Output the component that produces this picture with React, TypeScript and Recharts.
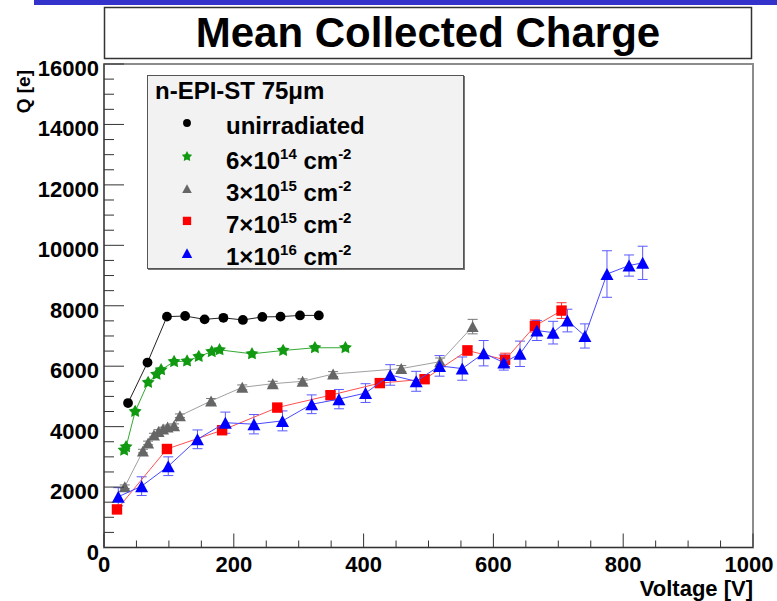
import {
  ErrorBar,
  Label,
  Legend,
  ReferenceArea,
  Scatter,
  ScatterChart,
  XAxis,
  YAxis,
} from "recharts";

// unirradiated
const unirrVoltage = [37, 67, 97, 125, 155, 184, 214, 244, 272, 302, 331];
const unirrCharge = [4780, 6120, 7640, 7660, 7550, 7600, 7530, 7630, 7640, 7680, 7680];

// 6e14 cm^-2
const f6e14Voltage = [31, 34, 48, 68, 81, 88, 108, 128, 146, 166, 178, 228, 276, 325, 372];
const f6e14Charge = [3220, 3330, 4500, 5460, 5730, 5880, 6150, 6170, 6320, 6480, 6540, 6410, 6520, 6610, 6610];

// 3e15 cm^-2
const f3e15Voltage = [32, 60, 68, 77, 84, 91, 98, 108, 117, 165, 213, 260, 306, 353, 458, 518, 568];
const f3e15Charge = [2010, 3190, 3460, 3720, 3840, 3920, 3990, 4030, 4360, 4850, 5300, 5420, 5500, 5740, 5920, 6150, 7310];
const f3e15Error = [60, 60, 60, 60, 60, 60, 60, 60, 60, 80, 80, 80, 80, 80, 100, 120, 240];

// 7e15 cm^-2
const f7e15Voltage = [20, 97, 182, 267, 349, 425, 494, 560, 618, 664, 705];
const f7e15Charge = [1260, 3260, 3880, 4630, 5040, 5440, 5570, 6520, 6210, 7330, 7840];
const f7e15Error = [100, 100, 100, 100, 120, 120, 120, 150, 220, 200, 260];

// 1e16 cm^-2
const f1e16Voltage = [22, 58, 99, 144, 187, 231, 275, 320, 362, 403, 441, 481, 517, 552, 585, 616, 641, 667, 692, 714, 741, 775, 809, 830];
const f1e16Charge = [1680, 2030, 2690, 3580, 4130, 4080, 4190, 4740, 4910, 5110, 5710, 5500, 6010, 5920, 6430, 6120, 6410, 7180, 7110, 7510, 7000, 9050, 9330, 9420];
const f1e16Error = [300, 310, 310, 310, 350, 320, 330, 310, 320, 310, 340, 330, 340, 385, 420, 250, 420, 330, 375, 375, 400, 770, 350, 550];

const xLabels = [0, 200, 400, 600, 800, 1000];
const yLabels = [0, 2000, 4000, 6000, 8000, 10000, 12000, 14000, 16000];
const xTicks = Array.from({ length: 21 }, (_, i) => i * 50);
const yTicks = Array.from({ length: 33 }, (_, i) => i * 500);

const legendTitle = "n-EPI-ST 75\u03bcm";
const fluenceMantissa = ["6", "3", "7", "1"];
const fluenceExponent = ["14", "15", "15", "16"];

const FONT = "'Liberation Sans', Arial, Helvetica, sans-serif";

interface Row {
  v: number;
  q: number;
  err: number;
}

function rows(voltage: number[], charge: number[], error?: number[]): Row[] {
  return voltage.map((v, i) => ({ v, q: charge[i], err: error ? error[i] : 0 }));
}

const unirrData = rows(unirrVoltage, unirrCharge);
const f6e14Data = rows(f6e14Voltage, f6e14Charge);
const f3e15Data = rows(f3e15Voltage, f3e15Charge, f3e15Error);
const f7e15Data = rows(f7e15Voltage, f7e15Charge, f7e15Error);
const f1e16Data = rows(f1e16Voltage, f1e16Charge, f1e16Error);

function starPoints(cx: number, cy: number, ro: number, ri: number) {
  const pts: string[] = [];
  for (let i = 0; i < 10; i++) {
    const r = i % 2 === 0 ? ro : ri;
    const a = -Math.PI / 2 + (i * Math.PI) / 5;
    pts.push(`${cx + r * Math.cos(a)},${cy + r * Math.sin(a)}`);
  }
  return pts.join(" ");
}

function Marker({ kind, cx, cy, color, s = 1 }: { kind: string; cx: number; cy: number; color: string; s?: number }) {
  if (kind === "circle") return <circle cx={cx} cy={cy} r={4.9 * s} fill={color} />;
  if (kind === "star") return <polygon points={starPoints(cx, cy, 6.8 * s, 3.6 * s)} fill={color} />;
  if (kind === "square") {
    const h = 5.2 * s;
    return <rect x={cx - h} y={cy - h} width={2 * h} height={2 * h} fill={color} />;
  }
  const w = (kind === "triBig" ? 6.5 : 6) * s;
  const hh = (kind === "triBig" ? 6 : 5.5) * s;
  return <polygon points={`${cx - w},${cy + hh} ${cx + w},${cy + hh} ${cx},${cy - hh}`} fill={color} />;
}

const shape = (kind: string, color: string) => (props: any) =>
  <Marker kind={kind} cx={props.cx} cy={props.cy} color={color} />;

function XTick(props: any) {
  const { x, y, payload } = props;
  const v = payload.value as number;
  const major = xLabels.includes(v);
  return (
    <g>
      <line x1={x} x2={x} y1={y} y2={y - (major ? 14 : 7)} stroke="#333" />
      {major && (
        <text x={v === 1000 ? x - 4 : x} y={y + 24} textAnchor="middle" fontFamily={FONT} fontWeight="bold" fontSize={22} fill="#000">
          {v}
        </text>
      )}
    </g>
  );
}

function YTick(props: any) {
  const { x, y, payload } = props;
  const v = payload.value as number;
  const major = yLabels.includes(v);
  return (
    <g>
      <line x1={x} x2={x + (major ? 20 : 10)} y1={y} y2={y} stroke="#333" />
      {major && (
        <text x={x - 5} y={y + 12} textAnchor="end" fontFamily={FONT} fontWeight="bold" fontSize={22} fill="#000">
          {v}
        </text>
      )}
    </g>
  );
}

const legendMarkers = [
  { kind: "star", color: "#119911" },
  { kind: "tri", color: "#666666" },
  { kind: "square", color: "#ff0000" },
  { kind: "triBig", color: "#0000ff" },
];

function LegendBox() {
  return (
    <div
      style={{
        width: 317,
        height: 194,
        boxSizing: "border-box",
        background: "#f2f2f2",
        border: "1px solid #555",
        boxShadow: "1px 1px 0 #777",
      }}
    >
      <svg width={317} height={194} style={{ position: "absolute", left: 0, top: 0 }}>
        <g fontFamily={FONT} fontWeight="bold" fill="#000">
          <text x={8} y={24} fontSize={24}>{legendTitle}</text>
          <Marker kind="circle" cx={40} cy={48} color="#000" s={0.8} />
          <text x={79} y={59} fontSize={24}>unirradiated</text>
          {fluenceMantissa.map((m, i) => (
            <g key={m + i}>
              <Marker kind={legendMarkers[i].kind} cx={40} cy={81.5 + i * 32.2} color={legendMarkers[i].color} s={0.8} />
              <text x={79} y={94 + i * 32} fontSize={24}>
                {m}{"\u00d7"}10
                <tspan dy={-10} fontSize={15}>{fluenceExponent[i]}</tspan>
                <tspan dy={10} fontSize={24}> cm</tspan>
                <tspan dy={-10} fontSize={15}>-2</tspan>
              </text>
            </g>
          ))}
        </g>
      </svg>
    </div>
  );
}

export default function App() {
  return (
    <div style={{ position: "absolute", left: 0, top: 0, width: 777, height: 601, background: "#fff", overflow: "hidden" }}>
      <ScatterChart width={777} height={601} margin={{ top: 64, right: 24, bottom: 0, left: 0 }}>
        <ReferenceArea x1={0} x2={1000} y1={0} y2={16000} fill="none" stroke="#8c8c8c" strokeWidth={2} ifOverflow="visible" />
        <XAxis
          type="number"
          dataKey="v"
          domain={[0, 1000]}
          ticks={xTicks}
          interval={0}
          tick={<XTick />}
          tickLine={false}
          tickSize={0}
          tickMargin={0}
          height={53.5}
          axisLine={{ stroke: "#333" }}
          allowDataOverflow
        >
          <Label
            content={(p: any) => (
              <text x={p.viewBox.x + p.viewBox.width} y={p.viewBox.y + 48.5} textAnchor="end" fontFamily={FONT} fontWeight="bold" fontSize={22} fill="#000">
                Voltage [V]
              </text>
            )}
          />
        </XAxis>
        <YAxis
          type="number"
          dataKey="q"
          domain={[0, 16000]}
          ticks={yTicks}
          interval={0}
          tick={<YTick />}
          tickLine={false}
          tickSize={0}
          tickMargin={0}
          width={104}
          axisLine={{ stroke: "#333" }}
          allowDataOverflow
        >
          <Label
            content={(p: any) => (
              <text x={30} y={p.viewBox.y + 6} textAnchor="end" transform={`rotate(-90, 30, ${p.viewBox.y + 6})`} fontFamily={FONT} fontWeight="bold" fontSize={19} fill="#000">
                Q [e]
              </text>
            )}
          />
        </YAxis>
        <Legend
          layout="vertical"
          align="center"
          verticalAlign="middle"
          content={() => <LegendBox />}
          wrapperStyle={{ left: 147, top: 75, width: 317, height: 194 }}
        />
        <Scatter name="unirradiated" data={unirrData} line={{ stroke: "#222", strokeWidth: 1 }} shape={shape("circle", "#000")} isAnimationActive={false} />
        <Scatter name="6e14" data={f6e14Data} line={{ stroke: "#33aa33", strokeWidth: 1 }} shape={shape("star", "#119911")} isAnimationActive={false} />
        <Scatter name="3e15" data={f3e15Data} line={{ stroke: "#a0a0a0", strokeWidth: 1 }} shape={shape("tri", "#666666")} isAnimationActive={false}>
          <ErrorBar dataKey="err" direction="y" width={5} stroke="#777" strokeWidth={1} isAnimationActive={false} />
        </Scatter>
        <Scatter name="7e15" data={f7e15Data} line={{ stroke: "#ff5050", strokeWidth: 1 }} shape={shape("square", "#ff0000")} isAnimationActive={false}>
          <ErrorBar dataKey="err" direction="y" width={5} stroke="#ff3030" strokeWidth={1} isAnimationActive={false} />
        </Scatter>
        <Scatter name="1e16" data={f1e16Data} line={{ stroke: "#4848ff", strokeWidth: 1 }} shape={shape("triBig", "#0000ff")} isAnimationActive={false}>
          <ErrorBar dataKey="err" direction="y" width={5} stroke="#5a5aff" strokeWidth={1} isAnimationActive={false} />
        </Scatter>
      </ScatterChart>
      <svg width={777} height={64} style={{ position: "absolute", left: 0, top: 0, pointerEvents: "none" }}>
        <rect x={34} y={0} width={743} height={5} fill="#3333cc" />
        <rect x={104.5} y={7.5} width={647} height={51} fill="#fff" stroke="#333" strokeWidth={1.5} />
        <text x={428} y={47} textAnchor="middle" fontFamily={FONT} fontWeight="bold" fontSize={42} fill="#000">
          Mean Collected Charge
        </text>
      </svg>
    </div>
  );
}
